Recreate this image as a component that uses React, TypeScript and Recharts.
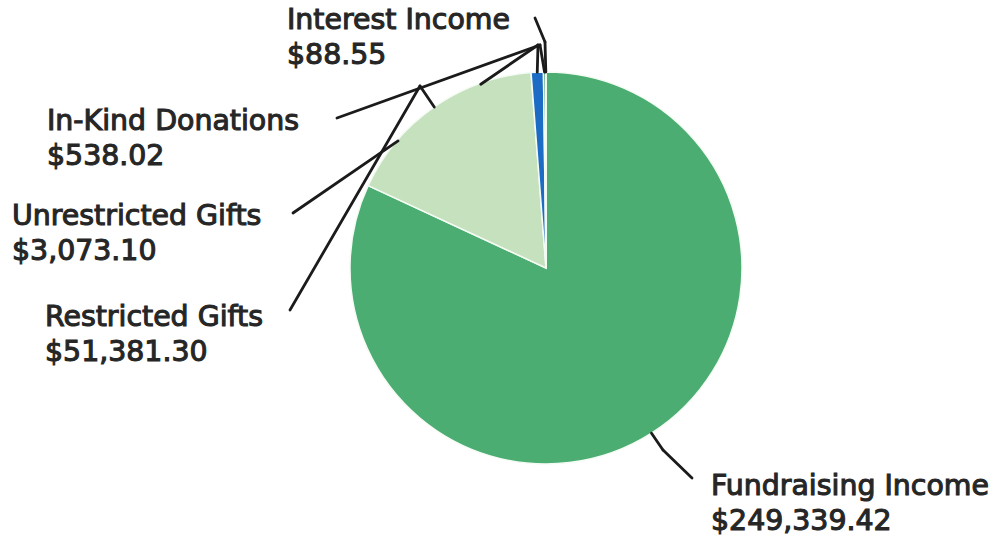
import React from "react";
import { PieChart, Pie, Cell } from "recharts";

// ---- data ----
const categories = [
  "Fundraising Income",
  "Restricted Gifts",
  "Unrestricted Gifts",
  "In-Kind Donations",
  "Interest Income",
];
const amounts = [249339.42, 51381.3, 3073.1, 538.02, 88.55];

// ---- styles / layout (not data) ----
const sliceColors = ["#4bad71", "#c6e1bd", "#1c6cc6", "#2f8a55", "#3d9c63"];
const CX = 546;
const CY = 268;
const R = 196;
const LINE_GAP = 35;
// text anchor (left, first baseline) and leader-line points, offsets from pie centre
const labelLayout = [
  { tx: 165, ty: 227, pts: [[146, 210], [117, 182]] },
  { tx: -501, ty: 58, pts: [[-256, 42], [-126, -182]] },
  { tx: -534, ty: -43, pts: [[-253, -55], [-8, -223]] },
  { tx: -499, ty: -138, pts: [[-209, -150], [-6, -223]] },
  { tx: -259, ty: -239, pts: [[-11, -250], [-1, -226]] },
];

const data = categories.map((name, i) => ({ name, value: amounts[i] }));

const fmt = (v: number) =>
  "$" + v.toLocaleString("en-US", { minimumFractionDigits: 2, maximumFractionDigits: 2 });

const RAD = Math.PI / 180;

type P = [number, number];

// remove the part of a segment that lies inside the pie disc (line is behind the pie)
function clipOutside(a: P, b: P, c: P, r: number): [P, P][] {
  const dx = b[0] - a[0];
  const dy = b[1] - a[1];
  const fx = a[0] - c[0];
  const fy = a[1] - c[1];
  const A = dx * dx + dy * dy;
  const B = 2 * (fx * dx + fy * dy);
  const C = fx * fx + fy * fy - r * r;
  const disc = B * B - 4 * A * C;
  if (disc <= 0 || A === 0) return [[a, b]];
  const s = Math.sqrt(disc);
  const t1 = (-B - s) / (2 * A);
  const t2 = (-B + s) / (2 * A);
  if (t2 <= 0 || t1 >= 1) return [[a, b]];
  const pt = (t: number): P => [a[0] + dx * t, a[1] + dy * t];
  const out: [P, P][] = [];
  if (t1 > 0) out.push([a, pt(t1)]);
  if (t2 < 1) out.push([pt(t2), b]);
  return out;
}

const FONT = "'DejaVu Sans', sans-serif";

const textStyle = {
  fill: "#262626",
  stroke: "#262626",
  strokeWidth: 1.1,
  fontFamily: FONT,
  fontWeight: "normal" as const,
  fontSize: 28.4,
};

const renderLabel = (props: any) => {
  const { cx, cy, midAngle, outerRadius, index, name, value } = props;
  const lay = labelLayout[index];
  if (!lay) return null;
  const end: P = [
    cx + outerRadius * Math.cos(-midAngle * RAD),
    cy + outerRadius * Math.sin(-midAngle * RAD),
  ];
  const pts: P[] = lay.pts.map((p) => [cx + p[0], cy + p[1]] as P);
  pts.push(end);
  const segs: [P, P][] = [];
  for (let i = 0; i < pts.length - 1; i++) {
    segs.push(...clipOutside(pts[i], pts[i + 1], [cx, cy], outerRadius - 1));
  }
  const x = cx + lay.tx;
  const y = cy + lay.ty;
  return (
    <g key={`lbl-${index}`}>
      {segs.map((s, i) => (
        <line
          key={i}
          x1={s[0][0]}
          y1={s[0][1]}
          x2={s[1][0]}
          y2={s[1][1]}
          stroke="#1b1b1b"
          strokeWidth={2.8}
          strokeLinecap="round"
        />
      ))}
      <text x={x} y={y} textAnchor="start" {...textStyle}>
        {name}
      </text>
      <text x={x} y={y + LINE_GAP} textAnchor="start" {...textStyle}>
        {fmt(value)}
      </text>
    </g>
  );
};

export default function App() {
  return (
    <div style={{ position: "absolute", left: 0, top: 0, width: 1005, height: 539, background: "#fff" }}>
      <PieChart width={1005} height={539} margin={{ top: 0, right: 0, bottom: 0, left: 0 }}>
        <Pie
          data={data}
          dataKey="value"
          nameKey="name"
          cx={CX}
          cy={CY}
          outerRadius={R}
          startAngle={90}
          endAngle={-270}
          stroke="#f4fbf4"
          strokeWidth={1.5}
          label={renderLabel}
          labelLine={false}
          isAnimationActive={false}
        >
          {data.map((d, i) => (
            <Cell key={d.name} fill={sliceColors[i]} />
          ))}
        </Pie>
      </PieChart>
    </div>
  );
}
